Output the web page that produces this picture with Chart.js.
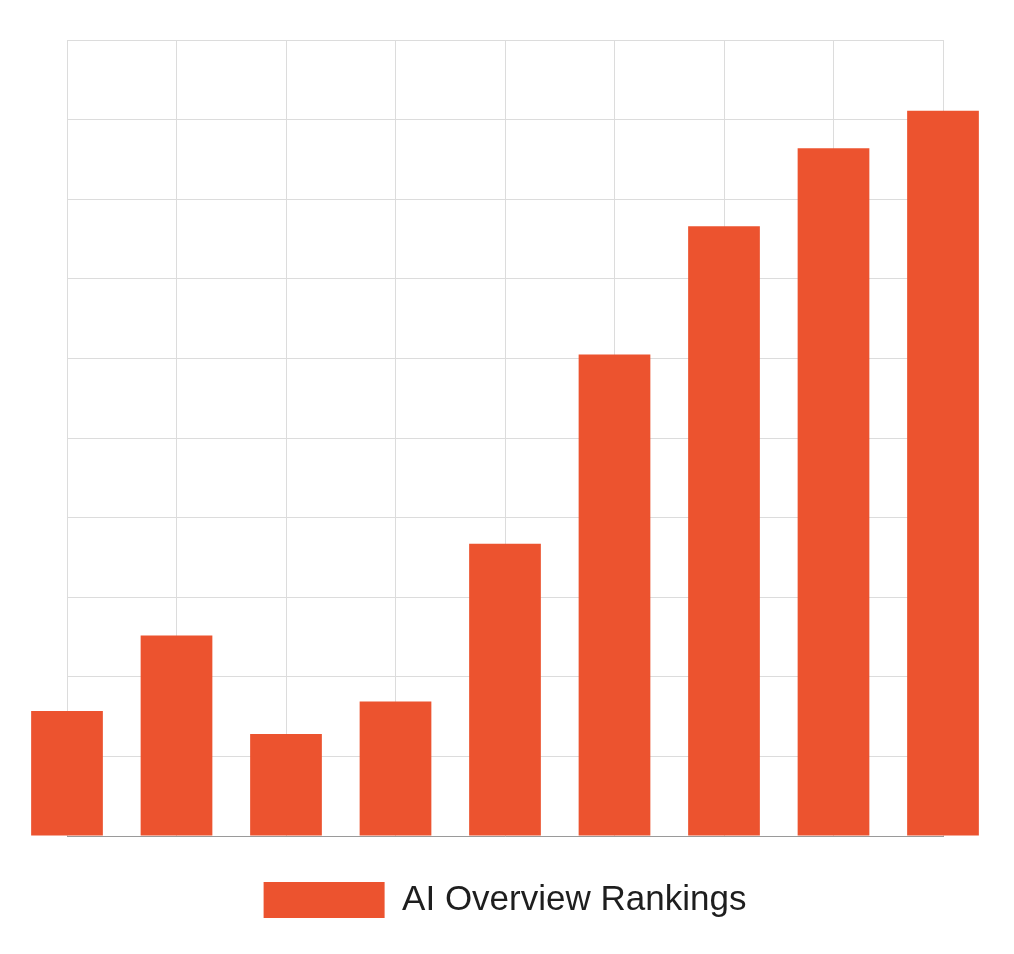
<!DOCTYPE html>
<html>
<head>
<meta charset="utf-8">
<script src="https://cdn.jsdelivr.net/npm/chart.js@4.4.1/dist/chart.umd.min.js"></script>
<style>
  html, body { margin: 0; padding: 0; background: #ffffff; }
  #wrap { width: 1014px; height: 954px; position: relative; }
</style>
</head>
<body>
<div id="wrap"><canvas id="c"></canvas></div>
<script>
const categories = ["1", "2", "3", "4", "5", "6", "7", "8", "9"];
const rankingValues = [15.7, 25.2, 12.8, 16.9, 36.7, 60.5, 76.6, 86.4, 91.1];
const seriesLabel = "AI Overview Rankings";
const yMin = 0;
const yMax = 100;
const yStep = 10;

const barColor = "#EC532F";

new Chart(document.getElementById("c"), {
  type: "bar",
  data: {
    labels: categories,
    datasets: [{
      label: seriesLabel,
      data: rankingValues,
      backgroundColor: barColor,
      borderWidth: 0,
      barPercentage: 0.655,
      categoryPercentage: 1.0,
      clip: false
    }]
  },
  options: {
    responsive: true,
    maintainAspectRatio: false,
    animation: false,
    layout: { padding: { left: 67, right: 71, top: 40, bottom: 26 } },
    scales: {
      x: {
        offset: false,
        grid: { display: true, offset: false, color: "#dcdcdc", lineWidth: 1, drawTicks: false },
        border: { display: true, color: "#9a9a9a", width: 1 },
        ticks: { display: false },
        afterFit: (s) => { s.height = 36; }
      },
      y: {
        min: yMin,
        max: yMax,
        ticks: { display: false, stepSize: yStep },
        grid: { color: "#dcdcdc", lineWidth: 1, drawTicks: false },
        border: { display: false },
        afterFit: (s) => { s.width = 0; }
      }
    },
    plugins: {
      legend: {
        position: "bottom",
        align: "center",
        labels: {
          boxWidth: 121,
          boxHeight: 36,
          padding: 10,
          color: "#1e1e1e",
          font: { family: "'Liberation Sans', Arial, sans-serif", size: 35 }
        }
      },
      tooltip: { enabled: false }
    }
  }
});
</script>
</body>
</html>
